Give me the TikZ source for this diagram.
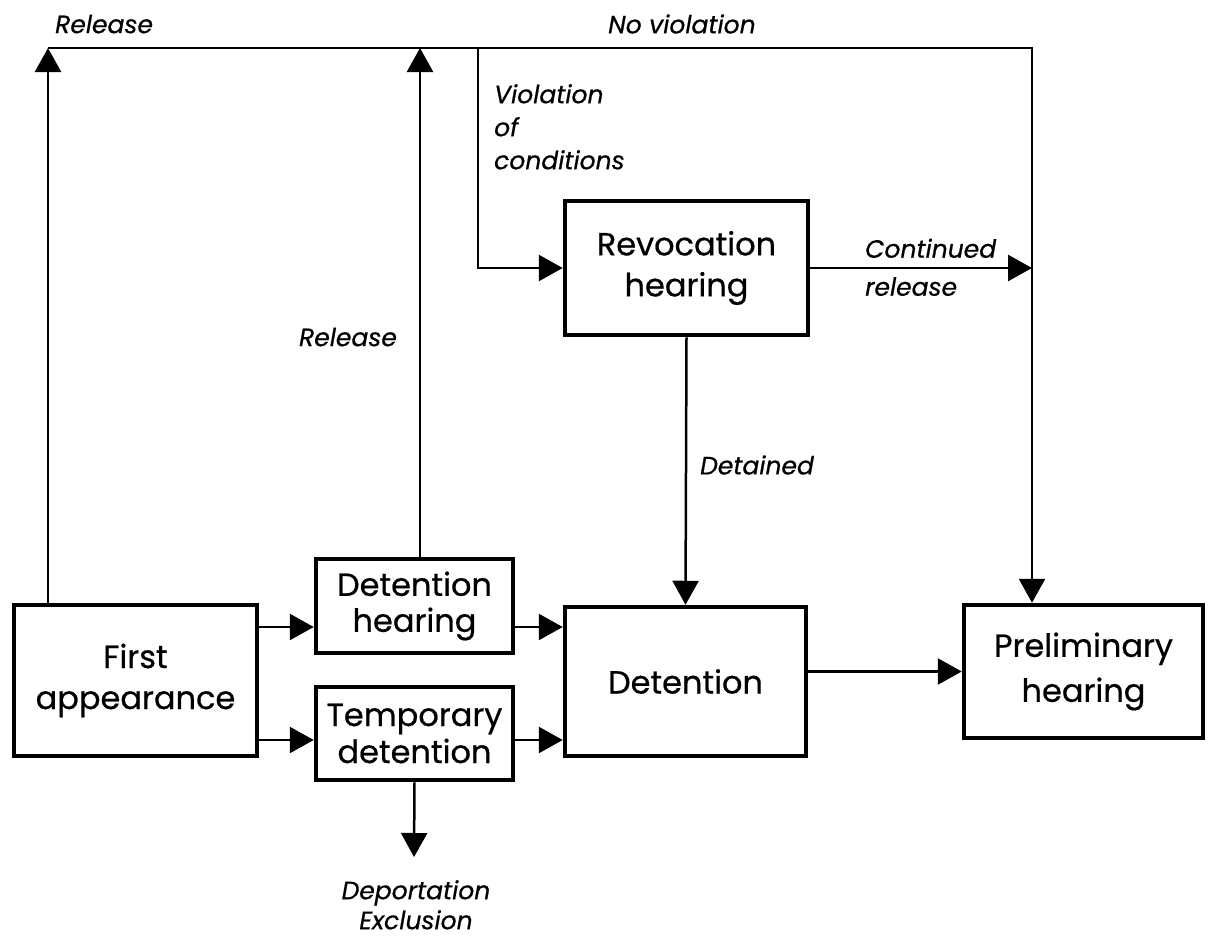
\documentclass[tikz,border=0pt]{standalone}
\usepackage{fontspec}
\setmainfont{Poppins}[FakeBold=0.6]
\usetikzlibrary{arrows.meta,calc}
\begin{document}
\begin{tikzpicture}[x=1pt,y=-1pt,
  box/.style={draw, line width=4.5pt, align=center, inner sep=0pt, fill=white,
    font=\fontsize{32}{41}\selectfont},
  lbl/.style={font=\fontsize{25}{33}\selectfont\itshape, inner sep=0pt, align=left},
  arr/.style={line width=2.5pt, -{Triangle[length=24pt,width=26pt]}}]
\useasboundingbox[fill=white] (0,0) rectangle (1208,938);

% boxes
\node[box, minimum width=243pt, minimum height=151pt] (fa) at (135.5,680.5) {First\\appearance};
\node[box, minimum width=197pt, minimum height=94pt, font=\fontsize{32}{36}\selectfont] (dh) at (414.5,606) {Detention\\hearing};
\node[box, minimum width=197pt, minimum height=93pt, font=\fontsize{32}{37}\selectfont] (td) at (414.5,733.5) {Temporary\\detention};
\node[box, minimum width=241pt, minimum height=149pt] (det) at (685.5,681.5) {Detention};
\node[box, minimum width=243pt, minimum height=134pt] (rh) at (686.5,268) {Revocation\\hearing};
\node[box, minimum width=239pt, minimum height=133pt, font=\fontsize{32}{45}\selectfont] (ph) at (1083.5,671.5) {Preliminary\\hearing};

% junction coordinates
\coordinate (tl) at (48,48);
\coordinate (tm) at (420,48);
\coordinate (tv) at (478,48);
\coordinate (tr) at (1032,48);
\coordinate (r1) at (0,627);
\coordinate (r2) at (0,740);
\coordinate (dep) at (414,857);

% connectors
\draw[arr] (fa.north -| tl) -- (tl);
\draw[arr] (dh.north -| tm) -- (tm);
\draw[arr] (tl) -- (tr) -- (ph.north -| tr);
\draw[arr] (tv) |- (rh.west);
\draw[arr] (rh.east) -- (rh.east -| tr);
\draw[arr] (rh.south) -- (det.north);
\draw[arr] (det.east |- ph.west) -- (ph.west);
\draw[arr] (fa.east |- r1) -- (dh.west |- r1);
\draw[arr] (fa.east |- r2) -- (td.west |- r2);
\draw[arr] (dh.east |- r1) -- (det.west |- r1);
\draw[arr] (td.east |- r2) -- (det.west |- r2);
\draw[arr] (td.south) -- (dep);

% labels
\node[lbl, anchor=west] (lrelA) at (55,24) {Release};
\node[lbl, anchor=west] (lnov) at (608,24) {No violation};
\node[lbl, anchor=north west] (lviol) at (494,84) {Violation\\of\\conditions};
\node[lbl] (lrelB) at (348,337) {Release};
\node[lbl, anchor=north west, font=\fontsize{25}{38}\selectfont\itshape] (lcont) at (865,238.5) {Continued\\release};
\node[lbl, anchor=west] (ldet) at (700,465) {Detained};
\node[lbl, anchor=north, align=center, font=\fontsize{25}{30}\selectfont\itshape] (ldep) at (416,880) {Deportation\\Exclusion};
\end{tikzpicture}
\end{document}
